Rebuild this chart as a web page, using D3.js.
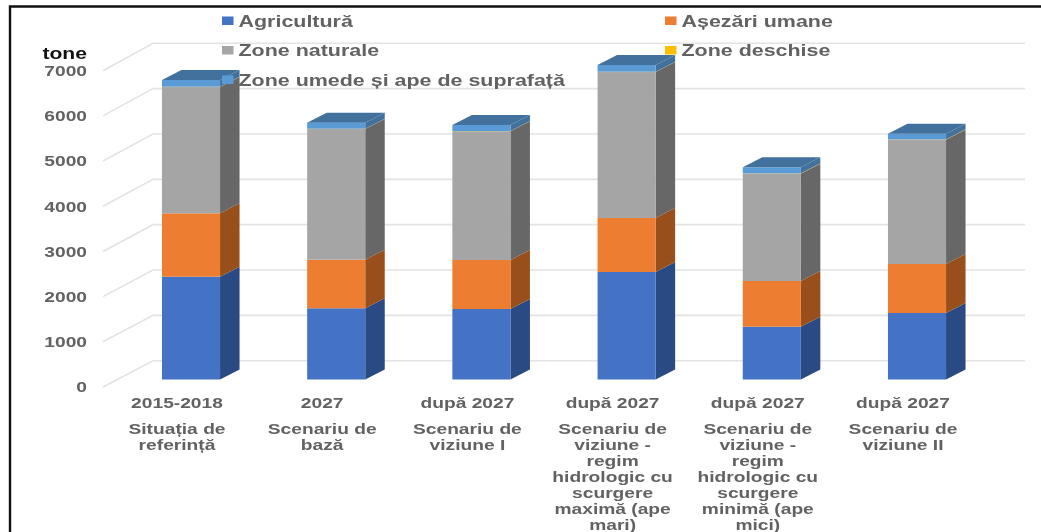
<!DOCTYPE html>
<html>
<head>
<meta charset="utf-8">
<script src="https://cdn.jsdelivr.net/npm/d3@7"></script>
<style>
  html, body { margin: 0; padding: 0; background: #fff; overflow: hidden; }
  svg { display: block; filter: blur(0.6px); }
  text { font-family: "Liberation Sans", sans-serif; font-weight: bold; fill: #626262; }
</style>
</head>
<body>
<div id="chart"></div>
<script>
// Data
var years = ["2015-2018", "2027", "după 2027", "după 2027", "după 2027", "după 2027"];
var scenarios = [
  ["Situația de", "referință"],
  ["Scenariu de", "bază"],
  ["Scenariu de", "viziune I"],
  ["Scenariu de", "viziune -", "regim", "hidrologic cu", "scurgere", "maximă (ape", "mari)"],
  ["Scenariu de", "viziune -", "regim", "hidrologic cu", "scurgere", "minimă (ape", "mici)"],
  ["Scenariu de", "viziune II"]
];
var agricultura = [2271, 1573, 1557, 2375, 1166, 1469];
var asezari = [1400, 1073, 1083, 1192, 1010, 1082];
var naturale = [2789, 2886, 2841, 3224, 2371, 2747];
var deschise = [8, 8, 8, 8, 8, 8];
var umede = [148, 133, 133, 148, 132, 124];
var yTicks = [0, 1000, 2000, 3000, 4000, 5000, 6000, 7000];

var seriesNames = ["Agricultură", "Așezări umane", "Zone naturale", "Zone deschise", "Zone umede și ape de suprafață"];
var frontColors = ["#4472c4", "#ed7d31", "#a5a5a5", "#ffc000", "#5b9bd5"];
var sideColors = ["#294a82", "#984f1c", "#676767", "#a67c00", "#41719c"];

var svgWidth = 1041;
var svgHeight = 532;

// The reference is a horizontally stretched image
var stretch = 1.28;

var svg = d3.select("#chart").append("svg")
  .attr("width", svgWidth)
  .attr("height", svgHeight);

svg.append("rect")
  .attr("width", svgWidth)
  .attr("height", svgHeight)
  .attr("fill", "#fff");

// Frame, only top and left are visible
svg.append("path")
  .attr("d", `M${svgWidth + 2},6.5H10V${svgHeight + 2}`)
  .attr("fill", "none")
  .attr("stroke", "#111")
  .attr("stroke-width", 2.4);

// Scales
var keys = d3.range(years.length);
var x = d3.scaleBand()
  .domain(keys)
  .range([118.4, 989.6])
  .paddingInner(0.6)
  .paddingOuter(0.3);

var yBar = d3.scaleLinear().domain([0, 7000]).range([379.5, 62.6]);
var yFront = d3.scaleLinear().domain([0, 7000]).range([387, 70.7]);
var yBack = d3.scaleLinear().domain([0, 7000]).range([360.7, 43.3]);

// Gridlines: diagonal on the left wall, then straight along the back wall
svg.append("g").selectAll("path")
  .data(yTicks)
  .enter()
  .append("path")
  .attr("d", d => `M103,${yFront(d)}L153,${yBack(d)}H1025`)
  .attr("fill", "none")
  .attr("stroke", "#e3e3e3")
  .attr("stroke-width", 1.6);

// Y axis labels
var yAxis = svg.append("g")
  .attr("transform", "translate(87, 0)")
  .call(d3.axisLeft(yFront).tickValues(yTicks).tickSize(0).tickPadding(0).tickFormat(d3.format("d")));

yAxis.select(".domain").remove();
yAxis.selectAll("text")
  .attr("x", 0)
  .attr("transform", `scale(${stretch}, 1)`)
  .style("font-size", "15px")
  .style("font-family", "\"Liberation Sans\", sans-serif");

svg.append("text")
  .attr("transform", `translate(87, 59) scale(${stretch}, 1)`)
  .attr("text-anchor", "end")
  .style("fill", "#111")
  .style("font-size", "16.5px")
  .text("tone");

// Stack the series
var rows = keys.map(i => ({
  s0: agricultura[i], s1: asezari[i], s2: naturale[i], s3: deschise[i], s4: umede[i]
}));
var stacked = d3.stack().keys(["s0", "s1", "s2", "s3", "s4"])(rows);

var depthX = 19.5;
var depthY = -10;

var barGroup = svg.append("g");

stacked.forEach(function (layer, s) {
  var g = barGroup.append("g");

  // right side of the box
  g.selectAll("polygon.side")
    .data(layer)
    .enter()
    .append("polygon")
    .attr("class", "side")
    .attr("fill", sideColors[s])
    .attr("points", function (d, i) {
      var right = x(i) + x.bandwidth();
      return [
        [right, yBar(d[0])],
        [right + depthX, yBar(d[0]) + depthY],
        [right + depthX, yBar(d[1]) + depthY],
        [right, yBar(d[1])]
      ].join(" ");
    });

  // front of the box
  g.selectAll("rect")
    .data(layer)
    .enter()
    .append("rect")
    .attr("x", (d, i) => x(i))
    .attr("y", d => yBar(d[1]))
    .attr("width", x.bandwidth())
    .attr("height", d => yBar(d[0]) - yBar(d[1]))
    .attr("fill", s === 3 ? "#a8a56a" : frontColors[s]);

  // lid only on the last series
  if (s === stacked.length - 1) {
    g.selectAll("polygon.top")
      .data(layer)
      .enter()
      .append("polygon")
      .attr("class", "top")
      .attr("fill", sideColors[s])
      .attr("points", function (d, i) {
        var left = x(i);
        var right = left + x.bandwidth();
        var top = yBar(d[1]);
        return [
          [left, top],
          [right, top],
          [right + depthX, top + depthY],
          [left + depthX, top + depthY]
        ].join(" ");
      });
  }
});

// X axis labels, shifted to the front edge of the floor
var labelGroup = svg.append("g");

keys.forEach(function (i) {
  var cx = x(i) + x.bandwidth() / 2 - 14;

  labelGroup.append("text")
    .attr("transform", `translate(${cx}, 408) scale(${stretch}, 1)`)
    .attr("text-anchor", "middle")
    .style("font-size", "15px")
    .text(years[i]);

  scenarios[i].forEach(function (line, n) {
    labelGroup.append("text")
      .attr("transform", `translate(${cx}, ${433.5 + n * 16}) scale(${stretch}, 1)`)
      .attr("text-anchor", "middle")
      .style("font-size", "15px")
      .text(line);
  });
});

// Legend sits on top of the plot
var legendX = [222, 665, 222, 665, 222];
var legendY = [21, 21, 50.5, 50.5, 80];

var legend = svg.append("g").selectAll("g")
  .data(seriesNames)
  .enter()
  .append("g")
  .attr("transform", (d, i) => `translate(${legendX[i]}, ${legendY[i]})`);

legend.append("rect")
  .attr("y", -4.5)
  .attr("width", 11.5)
  .attr("height", 8.5)
  .attr("fill", (d, i) => frontColors[i]);

legend.append("text")
  .attr("transform", "translate(16.5, 5.5) scale(1.3, 1)")
  .style("font-size", "16.5px")
  .text(d => d);
</script>
</body>
</html>
